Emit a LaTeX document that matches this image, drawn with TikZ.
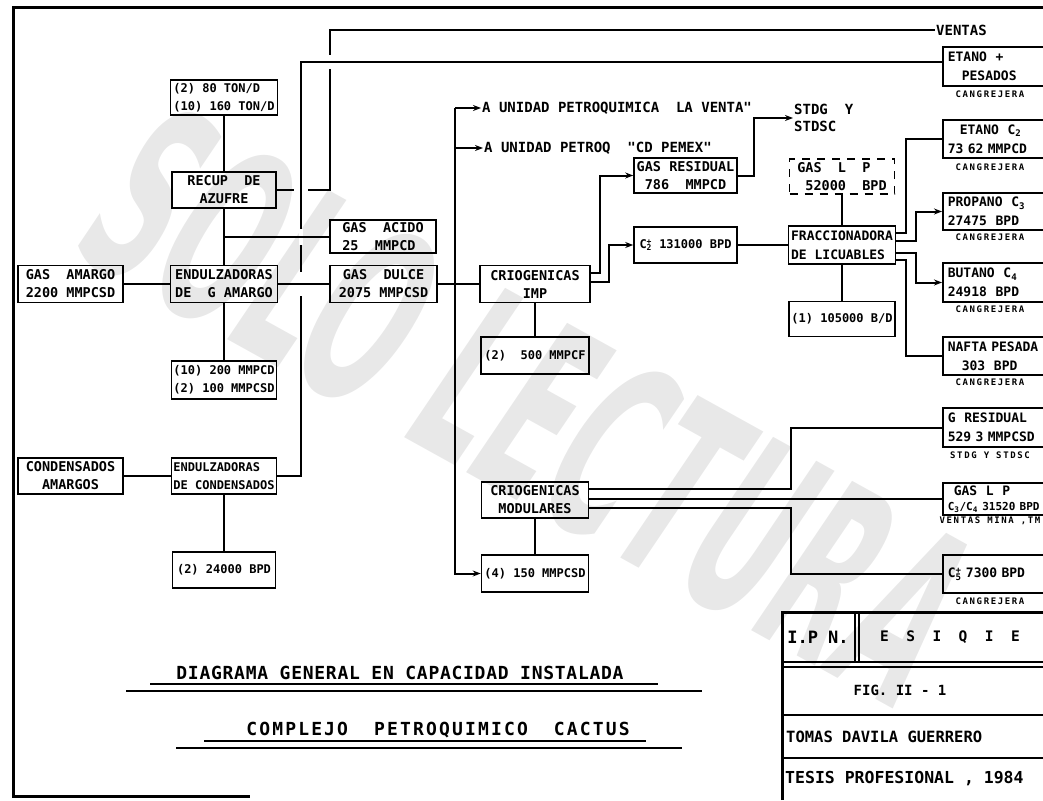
\documentclass[tikz,border=0pt]{standalone}
\usepackage{fontspec}
\usepackage{tikz}
\usetikzlibrary{arrows.meta,positioning,calc}

\newfontfamily\lett{DejaVu Sans Mono Bold}
\newfontfamily\wmark{DejaVu Sans Bold Oblique}

\tikzset{
  plant/.style={draw, line width=1.6pt, inner sep=2pt, align=center,
    font=\lett\fontsize{13.5}{18}\selectfont},
  capbox/.style={plant, align=left, font=\lett\fontsize{12}{18}\selectfont},
  prod/.style={draw, line width=1.6pt, anchor=west, minimum width=106pt,
    text width=96pt, inner xsep=4pt, inner ysep=2pt, align=left,
    font=\lett\fontsize{13}{19}\selectfont},
  lbl/.style={inner sep=1pt, font=\lett\fontsize{14}{17}\selectfont},
  tag/.style={inner sep=0pt,
    font=\lett\fontsize{9}{10}\selectfont\addfontfeatures{LetterSpace=18}},
  flow/.style={line width=2pt},
  feed/.style={flow, -{Stealth[length=8pt,width=6pt]}},
  border/.style={line width=3pt},
}

\begin{document}
\begin{tikzpicture}[x=1pt, y=-1pt]
  \useasboundingbox (0,0) rectangle (1043,800);
  \clip (0,0) rectangle (1043,800);

  % watermark of the scan
  \node[text=black!9, inner sep=0pt, font=\wmark\fontsize{112}{112}\selectfont,
    rotate=-29, yscale=2.2] (wm) at (530,405) {SOLO LECTURA};

  % sheet border
  \draw[border] (1043,8) -- (13,8) -- (13,796) -- (250,796);

  % sour gas and sweetening
  \node[plant, minimum width=105pt, minimum height=37pt] (gasamargo) at (70.5,284) {GAS~~AMARGO\\2200 MMPCSD};
  \node[plant, minimum width=105pt, minimum height=36pt] (condamarg) at (70.5,476) {CONDENSADOS\\AMARGOS};
  \node[capbox, minimum width=107pt, minimum height=35pt] (tond) at (224,97.5) {(2) 80 TON/D\\(10) 160 TON/D};
  \node[plant, minimum width=104pt, minimum height=36pt] (recup) at (224,190) {RECUP~~DE\\AZUFRE};
  \node[plant, align=left, minimum width=107pt, minimum height=37pt] (endamarg) at (224,284) {ENDULZADORAS\\DE~~G~AMARGO};
  \node[capbox, minimum width=105pt, minimum height=38pt] (capamarg) at (224,380) {(10) 200 MMPCD\\(2) 100 MMPCSD};
  \node[capbox, minimum width=105pt, minimum height=36pt] (endcond) at (224,476) {ENDULZADORAS\\DE CONDENSADOS};
  \node[capbox, minimum width=103pt, minimum height=36pt] (capcond) at (224,570) {(2) 24000 BPD};
  \node[plant, align=left, minimum width=106pt, minimum height=33pt] (gasacido) at (383,236.5) {GAS~~ACIDO\\25~~MMPCD};
  \node[plant, minimum width=107pt, minimum height=37pt] (gasdulce) at (383.5,284) {GAS~~DULCE\\2075 MMPCSD};

  % cryogenic plants
  \node[plant, minimum width=110pt, minimum height=37pt] (criogimp) at (535,284) {CRIOGENICAS\\IMP};
  \node[capbox, minimum width=108pt, minimum height=37pt] (capimp) at (535,355.5) {(2)~~500 MMPCF};
  \node[plant, minimum width=107pt, minimum height=36pt] (criomod) at (535,500) {CRIOGENICAS\\MODULARES};
  \node[capbox, minimum width=107pt, minimum height=37pt] (capmod) at (535,573.5) {(4) 150 MMPCSD};
  \node[lbl, anchor=west] (ventapq) at (481,108) {A UNIDAD PETROQUIMICA~~LA VENTA"};
  \node[lbl, anchor=west] (pemexpq) at (483,148) {A UNIDAD PETROQ~~"CD PEMEX"};
  \node[plant, minimum width=103pt, minimum height=35pt] (gasres) at (685.5,175.5) {GAS RESIDUAL\\786~~MMPCD};
  \node[capbox, minimum width=103pt, minimum height=36pt] (ctwo) at (685.5,245) {C\rlap{\textsuperscript{+}}\textsubscript{2} 131000 BPD};
  \node[lbl, anchor=west, align=left] (stdg) at (793,118) {STDG~~Y\\STDSC};

  % fractionation
  \node[plant, align=left, dash pattern=on 8pt off 7pt, minimum width=105pt, minimum height=35pt] (gaslp) at (842,176.5) {GAS~~L~~P\\~52000~~BPD};
  \node[plant, align=left, minimum width=107pt, minimum height=38pt, font=\lett\fontsize{13}{19}\selectfont] (fracc) at (842,245) {FRACCIONADORA\\DE LICUABLES};
  \node[capbox, minimum width=106pt, minimum height=35pt] (capfrac) at (842,319) {(1) 105000 B/D};

  % products
  \node[lbl, anchor=west] (ventas) at (935,30) {VENTAS};
  \node[prod, minimum height=39pt] (etp) at (942,66.5) {ETANO~~+\\\hspace*{14pt}PESADOS};
  \node[prod, minimum height=38pt] (etano) at (942,139) {\hspace*{12pt}ETANO~~C\textsubscript{2}\\73 62 MMPCD};
  \node[prod, minimum height=37pt] (propano) at (942,211.5) {PROPANO~~C\textsubscript{3}\\27475~~BPD};
  \node[prod, minimum height=39pt] (butano) at (942,282.5) {BUTANO~~C\textsubscript{4}\\24918~~BPD};
  \node[prod, minimum height=38pt] (nafta) at (942,356) {NAFTA PESADA\\\hspace*{14pt}303~~BPD};
  \node[prod, minimum height=39pt] (gresid) at (942,427.5) {G~~RESIDUAL\\529 3 MMPCSD};
  \node[prod, minimum height=32pt, font=\lett\fontsize{13}{15}\selectfont] (gaslpv) at (942,499) {\hspace*{6pt}GAS~~L~~P\\{\fontsize{11}{13}\selectfont C\textsubscript{3}/C\textsubscript{4} 31520 BPD}};
  \node[prod, minimum height=38pt] (cfive) at (942,574) {C\rlap{\textsuperscript{+}}\textsubscript{5} 7300 BPD};

  % destinations
  \node[tag] (etptag) at (990,94) {CANGREJERA};
  \node[tag] (etanotag) at (990,167) {CANGREJERA};
  \node[tag] (propanotag) at (990,237) {CANGREJERA};
  \node[tag] (butanotag) at (990,309) {CANGREJERA};
  \node[tag] (naftatag) at (990,382) {CANGREJERA};
  \node[tag] (gresidtag) at (990,455) {STDG Y STDSC};
  \node[tag] (gaslptag) at (990,521) {VENTAS MINA ,TM};
  \node[tag] (cfivetag) at (990,601) {CANGREJERA};

  % sweetening connections
  \draw[flow] (tond) -- (recup);
  \draw[flow] (recup) -- (endamarg);
  \draw[flow] (endamarg) -- (capamarg);
  \draw[flow] (endcond) -- (capcond);
  \draw[flow] (gasamargo) -- (endamarg);
  \draw[flow] (condamarg) -- (endcond);

  % lines to sales, broken where they cross
  \coordinate (jrec) at (330,30);
  \coordinate (jcond) at (301,62);
  \draw[flow] (recup.east) -| (jrec) -- (ventas.west);
  \coordinate (g1) at (jrec |- jcond);
  \coordinate (g2) at (jcond |- recup.east);
  \fill[white] ([shift={(-2,-7)}]g1) rectangle ([shift={(2,7)}]g1);
  \fill[white] ([shift={(-7,-2)}]g2) rectangle ([shift={(7,2)}]g2);
  \draw[flow] (endcond.east) -| (jcond) -- (jcond -| etp.west);
  \coordinate (g3) at (jcond |- gasacido.west);
  \coordinate (g4) at (jcond |- gasdulce.west);
  \fill[white] ([shift={(-2,-8)}]g3) rectangle ([shift={(2,8)}]g3);
  \fill[white] ([shift={(-2,-12)}]g4) rectangle ([shift={(2,12)}]g4);
  \draw[flow] (recup.south |- gasacido.west) -- (gasacido.west);
  \draw[flow] (endamarg) -- (gasdulce);

  % sweet gas distribution
  \coordinate (jtop) at (455,108);
  \draw[flow] (gasdulce) -- (criogimp);
  \draw[feed] (jtop) -- (ventapq.west);
  \draw[feed] (jtop |- pemexpq.west) -- (pemexpq.west);
  \draw[feed] (jtop) |- (capmod.west);
  \draw[flow] (criogimp) -- (capimp);
  \draw[flow] (criomod) -- (capmod);
  \draw[feed] ([yshift=11pt]criogimp.east) -- ++(9,0) |- (gasres.west);
  \draw[feed] ([yshift=2pt]criogimp.east) -- ++(18,0) |- (ctwo.west);
  \draw[feed] (gasres.east) -- ++(16,0) |- (stdg.west);

  % fractionation connections
  \draw[flow] (ctwo) -- (fracc);
  \draw[flow] (gaslp) -- (fracc);
  \draw[flow] (fracc) -- (capfrac);
  \draw[flow] ([yshift=12pt]fracc.east) -- ++(10,0) |- (etano.west);
  \draw[feed] ([yshift=4pt]fracc.east) -- ++(20,0) |- (propano.west);
  \draw[feed] ([yshift=-8pt]fracc.east) -- ++(20,0) |- (butano.west);
  \draw[flow] ([yshift=-15pt]fracc.east) -- ++(10,0) |- (nafta.west);

  % modular plants to products
  \draw[flow] ([yshift=11pt]criomod.east) -- ++(202,0) |- (gresid.west);
  \draw[flow] (criomod.east |- gaslpv.west) -- (gaslpv.west);
  \draw[flow] ([yshift=-8pt]criomod.east) -- ++(202,0) |- (cfive.west);

  % titles
  \node[font=\lett\fontsize{18}{20}\selectfont\addfontfeatures{LetterSpace=4}] (diag) at (400,673) {DIAGRAMA GENERAL EN CAPACIDAD INSTALADA};
  \node[font=\lett\fontsize{18}{20}\selectfont\addfontfeatures{LetterSpace=12}] (compl) at (438,730) {COMPLEJO~~PETROQUIMICO~~CACTUS};
  \draw[flow] (150,684) -- (658,684);
  \draw[flow] (126,691) -- (702,691);
  \draw[flow] (204,741) -- (646,741);
  \draw[flow] (176,748) -- (682,748);

  % title block
  \draw[border] (782,800) -- (782,612) -- (1043,612);
  \draw[flow] (855,612) -- (855,662);
  \draw[flow] (859,612) -- (859,662);
  \draw[flow] (782,662) -- (1043,662);
  \draw[flow] (782,667) -- (1043,667);
  \draw[flow] (782,715) -- (1043,715);
  \draw[flow] (782,758) -- (1043,758);
  \node[font=\lett\fontsize{17}{20}\selectfont] (ipn) at (818,637) {I.P N.};
  \node[font=\lett\fontsize{14.5}{18}\selectfont] (esiqie) at (950,637) {E~~S~~I~~Q~~I~~E};
  \node[font=\lett\fontsize{14}{17}\selectfont] (fig) at (900,690) {FIG. II - 1};
  \node[anchor=west, inner sep=1pt, font=\lett\fontsize{15.5}{18}\selectfont] (autor) at (785,737) {TOMAS DAVILA GUERRERO};
  \node[anchor=west, inner sep=1pt, font=\lett\fontsize{16.5}{20}\selectfont] (tesis) at (784,779) {TESIS PROFESIONAL , 1984};
\end{tikzpicture}
\end{document}
